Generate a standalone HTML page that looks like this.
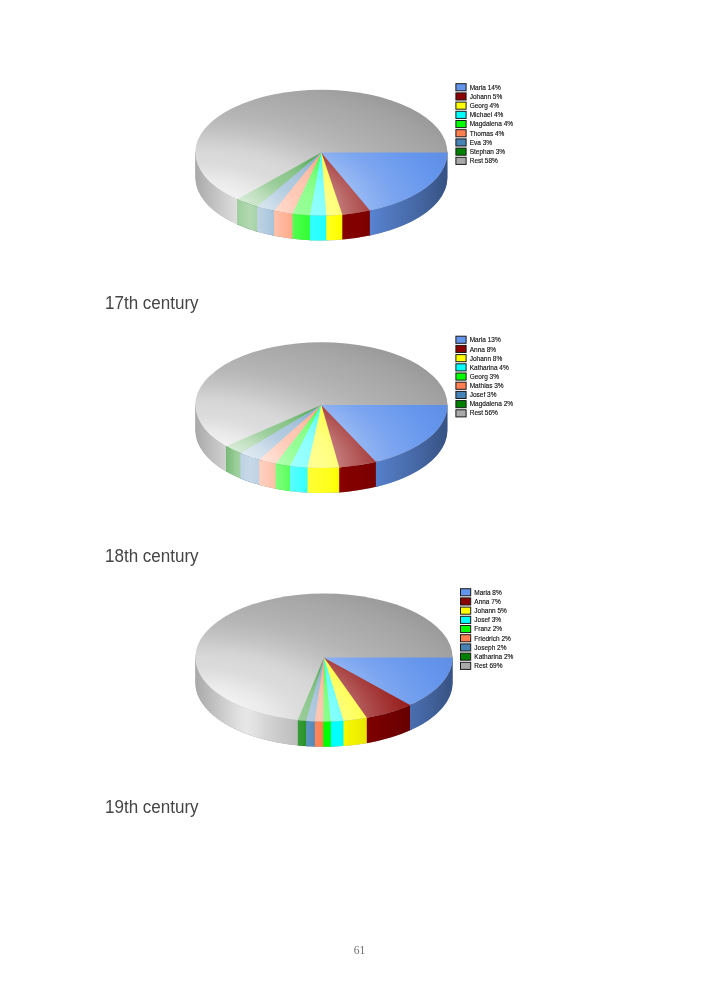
<!DOCTYPE html>
<html><head><meta charset="utf-8"><title>Page 61</title>
<style>
html,body{margin:0;padding:0;background:#fff;}
body{width:709px;height:992px;position:relative;overflow:hidden;font-family:"Liberation Sans",sans-serif;}
svg{position:absolute;left:0;top:0;}
.lg{font-family:"Liberation Sans",sans-serif;font-size:6.5px;fill:#111;stroke:#111;stroke-width:0.14px;filter:blur(0.35px);}
.cap{position:absolute;left:104.6px;font-size:18px;color:#454545;line-height:20px;white-space:nowrap;transform-origin:0 0;transform:scaleX(0.945);filter:blur(0.25px);}
.pn{position:absolute;left:10px;width:699px;text-align:center;top:943px;font-family:"Liberation Serif",serif;font-size:11.5px;color:#6e6e6e;line-height:14px;filter:blur(0.3px);}
</style></head><body>
<svg width="709" height="992" viewBox="0 0 709 992">
<defs>
<radialGradient id="p1t" gradientUnits="userSpaceOnUse" cx="0" cy="0" r="1.3" gradientTransform="translate(195.4,215.4) scale(252.0,125.6)">
<stop offset="0.000" stop-color="#fff" stop-opacity="1.0"/>
<stop offset="0.162" stop-color="#fff" stop-opacity="0.84"/>
<stop offset="0.231" stop-color="#fff" stop-opacity="0.75"/>
<stop offset="0.277" stop-color="#fff" stop-opacity="0.66"/>
<stop offset="0.323" stop-color="#fff" stop-opacity="0.59"/>
<stop offset="0.385" stop-color="#fff" stop-opacity="0.55"/>
<stop offset="0.431" stop-color="#fff" stop-opacity="0.49"/>
<stop offset="0.477" stop-color="#fff" stop-opacity="0.39"/>
<stop offset="0.523" stop-color="#fff" stop-opacity="0.3"/>
<stop offset="0.569" stop-color="#fff" stop-opacity="0.22"/>
<stop offset="0.615" stop-color="#fff" stop-opacity="0.15"/>
<stop offset="0.692" stop-color="#fff" stop-opacity="0.07"/>
<stop offset="0.769" stop-color="#fff" stop-opacity="0.0"/>
<stop offset="0.770" stop-color="#000" stop-opacity="0.0"/>
<stop offset="0.846" stop-color="#000" stop-opacity="0.04"/>
<stop offset="0.923" stop-color="#000" stop-opacity="0.09"/>
<stop offset="1.000" stop-color="#000" stop-opacity="0.12"/>
</radialGradient>
<linearGradient id="p1s" gradientUnits="userSpaceOnUse" x1="195.4" y1="0" x2="447.4" y2="0">
<stop offset="0" stop-color="#fff" stop-opacity="0.0"/>
<stop offset="0.078" stop-color="#fff" stop-opacity="0.3"/>
<stop offset="0.165" stop-color="#fff" stop-opacity="0.62"/>
<stop offset="0.217" stop-color="#fff" stop-opacity="0.7"/>
<stop offset="0.276" stop-color="#fff" stop-opacity="0.6"/>
<stop offset="0.348" stop-color="#fff" stop-opacity="0.43"/>
<stop offset="0.415" stop-color="#fff" stop-opacity="0.26"/>
<stop offset="0.455" stop-color="#fff" stop-opacity="0.2"/>
<stop offset="0.495" stop-color="#fff" stop-opacity="0.15"/>
<stop offset="0.534" stop-color="#fff" stop-opacity="0.1"/>
<stop offset="0.566" stop-color="#fff" stop-opacity="0.0"/>
<stop offset="0.566" stop-color="#000" stop-opacity="0.0"/>
<stop offset="0.594" stop-color="#000" stop-opacity="0.04"/>
<stop offset="0.653" stop-color="#000" stop-opacity="0.08"/>
<stop offset="0.713" stop-color="#000" stop-opacity="0.14"/>
<stop offset="0.772" stop-color="#000" stop-opacity="0.2"/>
<stop offset="0.832" stop-color="#000" stop-opacity="0.26"/>
<stop offset="0.891" stop-color="#000" stop-opacity="0.32"/>
<stop offset="1" stop-color="#000" stop-opacity="0.45"/>
</linearGradient>
</defs>
<path d="M447.40,152.60 A126.0,62.8 0 0 1 195.40,152.60 L195.40,177.60 A126.0,62.8 0 0 0 447.40,177.60 Z" fill="#A9A9A9"/>
<path d="M238.99,199.51 L195.40,152.00 L195.40,177.60 A126.0,62.8 0 0 0 238.99,225.11 Z" fill="#A9A9A9"/>
<path d="M259.28,206.64 L237.10,198.67 L237.10,224.27 A126.0,62.8 0 0 0 259.28,232.24 Z" fill="#008000"/>
<path d="M276.34,210.65 L257.10,206.01 L257.10,231.61 A126.0,62.8 0 0 0 276.34,236.25 Z" fill="#4682B4"/>
<path d="M294.96,213.40 L274.00,210.19 L274.00,235.79 A126.0,62.8 0 0 0 294.96,239.00 Z" fill="#FF7F50"/>
<path d="M312.41,214.64 L292.50,213.13 L292.50,238.73 A126.0,62.8 0 0 0 312.41,240.24 Z" fill="#00FF00"/>
<path d="M328.72,214.69 L309.90,214.54 L309.90,240.14 A126.0,62.8 0 0 0 328.72,240.29 Z" fill="#00FFFF"/>
<path d="M344.78,213.71 L326.20,214.75 L326.20,240.35 A126.0,62.8 0 0 0 344.78,239.31 Z" fill="#FFFF00"/>
<path d="M372.22,209.47 L342.30,213.93 L342.30,239.53 A126.0,62.8 0 0 0 372.22,235.07 Z" fill="#8B0000"/>
<path d="M447.40,152.00 L369.90,209.96 L369.90,235.56 A126.0,62.8 0 0 0 447.40,177.60 Z" fill="#6495ED"/>
<path d="M447.40,149.60 A126.0,62.8 0 0 1 195.40,149.60 L195.40,177.60 A126.0,62.8 0 0 0 447.40,177.60 Z" fill="url(#p1s)"/>
<ellipse cx="321.4" cy="152.6" rx="126.0" ry="62.8" fill="#A9A9A9"/>
<path d="M321.40,152.60 L259.28,207.24 A126.0,62.8 0 0 1 237.10,199.27 Z" fill="#008000"/>
<path d="M321.40,152.60 L276.34,211.25 A126.0,62.8 0 0 1 257.10,206.61 Z" fill="#4682B4"/>
<path d="M321.40,152.60 L294.96,214.00 A126.0,62.8 0 0 1 274.00,210.79 Z" fill="#FF7F50"/>
<path d="M321.40,152.60 L312.41,215.24 A126.0,62.8 0 0 1 292.50,213.73 Z" fill="#00FF00"/>
<path d="M321.40,152.60 L328.72,215.29 A126.0,62.8 0 0 1 309.90,215.14 Z" fill="#00FFFF"/>
<path d="M321.40,152.60 L344.78,214.31 A126.0,62.8 0 0 1 326.20,215.35 Z" fill="#FFFF00"/>
<path d="M321.40,152.60 L372.22,210.07 A126.0,62.8 0 0 1 342.30,214.53 Z" fill="#8B0000"/>
<path d="M321.40,152.60 L447.40,152.60 A126.0,62.8 0 0 1 369.90,210.56 Z" fill="#6495ED"/>
<ellipse cx="321.4" cy="152.6" rx="126.0" ry="62.8" fill="url(#p1t)"/>
<rect x="455.90" y="83.70" width="10.2" height="7.1" fill="#6495ED" stroke="#1a1a1a" stroke-width="1"/>
<text x="469.70" y="89.90" class="lg">Maria 14%</text>
<rect x="455.90" y="92.90" width="10.2" height="7.1" fill="#8B0000" stroke="#1a1a1a" stroke-width="1"/>
<text x="469.70" y="99.02" class="lg">Johann 5%</text>
<rect x="455.90" y="102.10" width="10.2" height="7.1" fill="#FFFF00" stroke="#1a1a1a" stroke-width="1"/>
<text x="469.70" y="108.14" class="lg">Georg 4%</text>
<rect x="455.90" y="111.30" width="10.2" height="7.1" fill="#00FFFF" stroke="#1a1a1a" stroke-width="1"/>
<text x="469.70" y="117.26" class="lg">Michael 4%</text>
<rect x="455.90" y="120.50" width="10.2" height="7.1" fill="#00FF00" stroke="#1a1a1a" stroke-width="1"/>
<text x="469.70" y="126.38" class="lg">Magdalena 4%</text>
<rect x="455.90" y="129.70" width="10.2" height="7.1" fill="#FF7F50" stroke="#1a1a1a" stroke-width="1"/>
<text x="469.70" y="135.50" class="lg">Thomas 4%</text>
<rect x="455.90" y="138.90" width="10.2" height="7.1" fill="#4682B4" stroke="#1a1a1a" stroke-width="1"/>
<text x="469.70" y="144.62" class="lg">Eva 3%</text>
<rect x="455.90" y="148.10" width="10.2" height="7.1" fill="#008000" stroke="#1a1a1a" stroke-width="1"/>
<text x="469.70" y="153.74" class="lg">Stephan 3%</text>
<rect x="455.90" y="157.30" width="10.2" height="7.1" fill="#A9A9A9" stroke="#1a1a1a" stroke-width="1"/>
<text x="469.70" y="162.86" class="lg">Rest 58%</text>
<defs>
<radialGradient id="p2t" gradientUnits="userSpaceOnUse" cx="0" cy="0" r="1.3" gradientTransform="translate(195.4,468.0) scale(252.0,125.8)">
<stop offset="0.000" stop-color="#fff" stop-opacity="1.0"/>
<stop offset="0.162" stop-color="#fff" stop-opacity="0.84"/>
<stop offset="0.231" stop-color="#fff" stop-opacity="0.75"/>
<stop offset="0.277" stop-color="#fff" stop-opacity="0.66"/>
<stop offset="0.323" stop-color="#fff" stop-opacity="0.59"/>
<stop offset="0.385" stop-color="#fff" stop-opacity="0.55"/>
<stop offset="0.431" stop-color="#fff" stop-opacity="0.49"/>
<stop offset="0.477" stop-color="#fff" stop-opacity="0.39"/>
<stop offset="0.523" stop-color="#fff" stop-opacity="0.3"/>
<stop offset="0.569" stop-color="#fff" stop-opacity="0.22"/>
<stop offset="0.615" stop-color="#fff" stop-opacity="0.15"/>
<stop offset="0.692" stop-color="#fff" stop-opacity="0.07"/>
<stop offset="0.769" stop-color="#fff" stop-opacity="0.0"/>
<stop offset="0.770" stop-color="#000" stop-opacity="0.0"/>
<stop offset="0.846" stop-color="#000" stop-opacity="0.04"/>
<stop offset="0.923" stop-color="#000" stop-opacity="0.09"/>
<stop offset="1.000" stop-color="#000" stop-opacity="0.12"/>
</radialGradient>
<linearGradient id="p2s" gradientUnits="userSpaceOnUse" x1="195.4" y1="0" x2="447.4" y2="0">
<stop offset="0" stop-color="#fff" stop-opacity="0.0"/>
<stop offset="0.078" stop-color="#fff" stop-opacity="0.3"/>
<stop offset="0.165" stop-color="#fff" stop-opacity="0.62"/>
<stop offset="0.217" stop-color="#fff" stop-opacity="0.7"/>
<stop offset="0.276" stop-color="#fff" stop-opacity="0.6"/>
<stop offset="0.348" stop-color="#fff" stop-opacity="0.43"/>
<stop offset="0.415" stop-color="#fff" stop-opacity="0.26"/>
<stop offset="0.455" stop-color="#fff" stop-opacity="0.2"/>
<stop offset="0.495" stop-color="#fff" stop-opacity="0.15"/>
<stop offset="0.534" stop-color="#fff" stop-opacity="0.1"/>
<stop offset="0.566" stop-color="#fff" stop-opacity="0.0"/>
<stop offset="0.566" stop-color="#000" stop-opacity="0.0"/>
<stop offset="0.594" stop-color="#000" stop-opacity="0.04"/>
<stop offset="0.653" stop-color="#000" stop-opacity="0.08"/>
<stop offset="0.713" stop-color="#000" stop-opacity="0.14"/>
<stop offset="0.772" stop-color="#000" stop-opacity="0.2"/>
<stop offset="0.832" stop-color="#000" stop-opacity="0.26"/>
<stop offset="0.891" stop-color="#000" stop-opacity="0.32"/>
<stop offset="1" stop-color="#000" stop-opacity="0.45"/>
</linearGradient>
</defs>
<path d="M447.40,405.10 A126.0,62.9 0 0 1 195.40,405.10 L195.40,430.20 A126.0,62.9 0 0 0 447.40,430.20 Z" fill="#A9A9A9"/>
<path d="M227.67,446.53 L195.40,404.50 L195.40,430.20 A126.0,62.9 0 0 0 227.67,472.23 Z" fill="#A9A9A9"/>
<path d="M242.35,453.48 L226.00,445.59 L226.00,471.29 A126.0,62.9 0 0 0 242.35,479.18 Z" fill="#008000"/>
<path d="M261.30,459.78 L240.40,452.68 L240.40,478.38 A126.0,62.9 0 0 0 261.30,485.48 Z" fill="#4682B4"/>
<path d="M277.96,463.54 L259.10,459.17 L259.10,484.87 A126.0,62.9 0 0 0 277.96,489.24 Z" fill="#FF7F50"/>
<path d="M292.45,465.72 L275.60,463.10 L275.60,488.80 A126.0,62.9 0 0 0 292.45,491.42 Z" fill="#00FF00"/>
<path d="M310.01,467.14 L290.00,465.42 L290.00,491.12 A126.0,62.9 0 0 0 310.01,492.84 Z" fill="#00FFFF"/>
<path d="M341.69,466.58 L307.50,467.02 L307.50,492.72 A126.0,62.9 0 0 0 341.69,492.28 Z" fill="#FFFF00"/>
<path d="M378.16,460.66 L339.20,466.77 L339.20,492.47 A126.0,62.9 0 0 0 378.16,486.36 Z" fill="#8B0000"/>
<path d="M447.40,404.50 L375.90,461.21 L375.90,486.91 A126.0,62.9 0 0 0 447.40,430.20 Z" fill="#6495ED"/>
<path d="M447.40,402.10 A126.0,62.9 0 0 1 195.40,402.10 L195.40,430.20 A126.0,62.9 0 0 0 447.40,430.20 Z" fill="url(#p2s)"/>
<ellipse cx="321.4" cy="405.1" rx="126.0" ry="62.9" fill="#A9A9A9"/>
<path d="M321.40,405.10 L242.35,454.08 A126.0,62.9 0 0 1 226.00,446.19 Z" fill="#008000"/>
<path d="M321.40,405.10 L261.30,460.38 A126.0,62.9 0 0 1 240.40,453.28 Z" fill="#4682B4"/>
<path d="M321.40,405.10 L277.96,464.14 A126.0,62.9 0 0 1 259.10,459.77 Z" fill="#FF7F50"/>
<path d="M321.40,405.10 L292.45,466.32 A126.0,62.9 0 0 1 275.60,463.70 Z" fill="#00FF00"/>
<path d="M321.40,405.10 L310.01,467.74 A126.0,62.9 0 0 1 290.00,466.02 Z" fill="#00FFFF"/>
<path d="M321.40,405.10 L341.69,467.18 A126.0,62.9 0 0 1 307.50,467.62 Z" fill="#FFFF00"/>
<path d="M321.40,405.10 L378.16,461.26 A126.0,62.9 0 0 1 339.20,467.37 Z" fill="#8B0000"/>
<path d="M321.40,405.10 L447.40,405.10 A126.0,62.9 0 0 1 375.90,461.81 Z" fill="#6495ED"/>
<ellipse cx="321.4" cy="405.1" rx="126.0" ry="62.9" fill="url(#p2t)"/>
<rect x="455.90" y="336.20" width="10.2" height="7.1" fill="#6495ED" stroke="#1a1a1a" stroke-width="1"/>
<text x="469.70" y="342.40" class="lg">Maria 13%</text>
<rect x="455.90" y="345.40" width="10.2" height="7.1" fill="#8B0000" stroke="#1a1a1a" stroke-width="1"/>
<text x="469.70" y="351.52" class="lg">Anna 8%</text>
<rect x="455.90" y="354.60" width="10.2" height="7.1" fill="#FFFF00" stroke="#1a1a1a" stroke-width="1"/>
<text x="469.70" y="360.64" class="lg">Johann 8%</text>
<rect x="455.90" y="363.80" width="10.2" height="7.1" fill="#00FFFF" stroke="#1a1a1a" stroke-width="1"/>
<text x="469.70" y="369.76" class="lg">Katharina 4%</text>
<rect x="455.90" y="373.00" width="10.2" height="7.1" fill="#00FF00" stroke="#1a1a1a" stroke-width="1"/>
<text x="469.70" y="378.88" class="lg">Georg 3%</text>
<rect x="455.90" y="382.20" width="10.2" height="7.1" fill="#FF7F50" stroke="#1a1a1a" stroke-width="1"/>
<text x="469.70" y="388.00" class="lg">Mathias 3%</text>
<rect x="455.90" y="391.40" width="10.2" height="7.1" fill="#4682B4" stroke="#1a1a1a" stroke-width="1"/>
<text x="469.70" y="397.12" class="lg">Josef 3%</text>
<rect x="455.90" y="400.60" width="10.2" height="7.1" fill="#008000" stroke="#1a1a1a" stroke-width="1"/>
<text x="469.70" y="406.24" class="lg">Magdalena 2%</text>
<rect x="455.90" y="409.80" width="10.2" height="7.1" fill="#A9A9A9" stroke="#1a1a1a" stroke-width="1"/>
<text x="469.70" y="415.36" class="lg">Rest 56%</text>
<defs>
<radialGradient id="p3t" gradientUnits="userSpaceOnUse" cx="0" cy="0" r="1.3" gradientTransform="translate(195.4,721.4) scale(257.2,127.8)">
<stop offset="0.000" stop-color="#fff" stop-opacity="1.0"/>
<stop offset="0.162" stop-color="#fff" stop-opacity="0.84"/>
<stop offset="0.231" stop-color="#fff" stop-opacity="0.75"/>
<stop offset="0.277" stop-color="#fff" stop-opacity="0.66"/>
<stop offset="0.323" stop-color="#fff" stop-opacity="0.59"/>
<stop offset="0.385" stop-color="#fff" stop-opacity="0.55"/>
<stop offset="0.431" stop-color="#fff" stop-opacity="0.49"/>
<stop offset="0.477" stop-color="#fff" stop-opacity="0.39"/>
<stop offset="0.523" stop-color="#fff" stop-opacity="0.3"/>
<stop offset="0.569" stop-color="#fff" stop-opacity="0.22"/>
<stop offset="0.615" stop-color="#fff" stop-opacity="0.15"/>
<stop offset="0.692" stop-color="#fff" stop-opacity="0.07"/>
<stop offset="0.769" stop-color="#fff" stop-opacity="0.0"/>
<stop offset="0.770" stop-color="#000" stop-opacity="0.0"/>
<stop offset="0.846" stop-color="#000" stop-opacity="0.04"/>
<stop offset="0.923" stop-color="#000" stop-opacity="0.09"/>
<stop offset="1.000" stop-color="#000" stop-opacity="0.12"/>
</radialGradient>
<linearGradient id="p3s" gradientUnits="userSpaceOnUse" x1="195.4" y1="0" x2="452.6" y2="0">
<stop offset="0" stop-color="#fff" stop-opacity="0.0"/>
<stop offset="0.078" stop-color="#fff" stop-opacity="0.3"/>
<stop offset="0.165" stop-color="#fff" stop-opacity="0.64"/>
<stop offset="0.201" stop-color="#fff" stop-opacity="0.72"/>
<stop offset="0.237" stop-color="#fff" stop-opacity="0.64"/>
<stop offset="0.276" stop-color="#fff" stop-opacity="0.5"/>
<stop offset="0.336" stop-color="#fff" stop-opacity="0.36"/>
<stop offset="0.399" stop-color="#fff" stop-opacity="0.22"/>
<stop offset="0.431" stop-color="#fff" stop-opacity="0.15"/>
<stop offset="0.463" stop-color="#fff" stop-opacity="0.06"/>
<stop offset="0.495" stop-color="#fff" stop-opacity="0.0"/>
<stop offset="0.566" stop-color="#fff" stop-opacity="0.0"/>
<stop offset="0.566" stop-color="#000" stop-opacity="0.0"/>
<stop offset="0.594" stop-color="#000" stop-opacity="0.04"/>
<stop offset="0.653" stop-color="#000" stop-opacity="0.08"/>
<stop offset="0.713" stop-color="#000" stop-opacity="0.14"/>
<stop offset="0.772" stop-color="#000" stop-opacity="0.2"/>
<stop offset="0.832" stop-color="#000" stop-opacity="0.26"/>
<stop offset="0.891" stop-color="#000" stop-opacity="0.32"/>
<stop offset="1" stop-color="#000" stop-opacity="0.45"/>
</linearGradient>
</defs>
<path d="M452.60,657.50 A128.6,63.9 0 0 1 195.40,657.50 L195.40,682.90 A128.6,63.9 0 0 0 452.60,682.90 Z" fill="#A9A9A9"/>
<path d="M300.32,719.71 L195.40,656.90 L195.40,682.90 A128.6,63.9 0 0 0 300.32,745.71 Z" fill="#A9A9A9"/>
<path d="M308.65,720.34 L297.80,719.46 L297.80,745.46 A128.6,63.9 0 0 0 308.65,746.34 Z" fill="#008000"/>
<path d="M317.37,720.71 L306.10,720.18 L306.10,746.18 A128.6,63.9 0 0 0 317.37,746.71 Z" fill="#4682B4"/>
<path d="M325.77,720.79 L314.80,720.64 L314.80,746.64 A128.6,63.9 0 0 0 325.77,746.79 Z" fill="#FF7F50"/>
<path d="M333.37,720.63 L323.20,720.80 L323.20,746.80 A128.6,63.9 0 0 0 333.37,746.63 Z" fill="#00FF00"/>
<path d="M346.04,719.85 L330.80,720.71 L330.80,746.71 A128.6,63.9 0 0 0 346.04,745.85 Z" fill="#00FFFF"/>
<path d="M369.22,716.72 L343.50,720.06 L343.50,746.06 A128.6,63.9 0 0 0 369.22,742.72 Z" fill="#FFFF00"/>
<path d="M411.89,703.55 L366.80,717.16 L366.80,743.16 A128.6,63.9 0 0 0 411.89,729.55 Z" fill="#8B0000"/>
<path d="M452.60,656.90 L410.00,704.41 L410.00,730.41 A128.6,63.9 0 0 0 452.60,682.90 Z" fill="#6495ED"/>
<path d="M452.60,654.50 A128.6,63.9 0 0 1 195.40,654.50 L195.40,682.90 A128.6,63.9 0 0 0 452.60,682.90 Z" fill="url(#p3s)"/>
<ellipse cx="324.0" cy="657.5" rx="128.6" ry="63.9" fill="#A9A9A9"/>
<path d="M324.00,657.50 L308.65,720.94 A128.6,63.9 0 0 1 297.80,720.06 Z" fill="#008000"/>
<path d="M324.00,657.50 L317.37,721.31 A128.6,63.9 0 0 1 306.10,720.78 Z" fill="#4682B4"/>
<path d="M324.00,657.50 L325.77,721.39 A128.6,63.9 0 0 1 314.80,721.24 Z" fill="#FF7F50"/>
<path d="M324.00,657.50 L333.37,721.23 A128.6,63.9 0 0 1 323.20,721.40 Z" fill="#00FF00"/>
<path d="M324.00,657.50 L346.04,720.45 A128.6,63.9 0 0 1 330.80,721.31 Z" fill="#00FFFF"/>
<path d="M324.00,657.50 L369.22,717.32 A128.6,63.9 0 0 1 343.50,720.66 Z" fill="#FFFF00"/>
<path d="M324.00,657.50 L411.89,704.15 A128.6,63.9 0 0 1 366.80,717.76 Z" fill="#8B0000"/>
<path d="M324.00,657.50 L452.60,657.50 A128.6,63.9 0 0 1 410.00,705.01 Z" fill="#6495ED"/>
<ellipse cx="324.0" cy="657.5" rx="128.6" ry="63.9" fill="url(#p3t)"/>
<rect x="460.50" y="588.70" width="10.2" height="7.1" fill="#6495ED" stroke="#1a1a1a" stroke-width="1"/>
<text x="474.30" y="594.90" class="lg">Maria 8%</text>
<rect x="460.50" y="597.90" width="10.2" height="7.1" fill="#8B0000" stroke="#1a1a1a" stroke-width="1"/>
<text x="474.30" y="604.02" class="lg">Anna 7%</text>
<rect x="460.50" y="607.10" width="10.2" height="7.1" fill="#FFFF00" stroke="#1a1a1a" stroke-width="1"/>
<text x="474.30" y="613.14" class="lg">Johann 5%</text>
<rect x="460.50" y="616.30" width="10.2" height="7.1" fill="#00FFFF" stroke="#1a1a1a" stroke-width="1"/>
<text x="474.30" y="622.26" class="lg">Josef 3%</text>
<rect x="460.50" y="625.50" width="10.2" height="7.1" fill="#00FF00" stroke="#1a1a1a" stroke-width="1"/>
<text x="474.30" y="631.38" class="lg">Franz 2%</text>
<rect x="460.50" y="634.70" width="10.2" height="7.1" fill="#FF7F50" stroke="#1a1a1a" stroke-width="1"/>
<text x="474.30" y="640.50" class="lg">Friedrich 2%</text>
<rect x="460.50" y="643.90" width="10.2" height="7.1" fill="#4682B4" stroke="#1a1a1a" stroke-width="1"/>
<text x="474.30" y="649.62" class="lg">Joseph 2%</text>
<rect x="460.50" y="653.10" width="10.2" height="7.1" fill="#008000" stroke="#1a1a1a" stroke-width="1"/>
<text x="474.30" y="658.74" class="lg">Katharina 2%</text>
<rect x="460.50" y="662.30" width="10.2" height="7.1" fill="#A9A9A9" stroke="#1a1a1a" stroke-width="1"/>
<text x="474.30" y="667.86" class="lg">Rest 69%</text>
</svg>
<div class="cap" style="top:292.6px">17th century</div>
<div class="cap" style="top:545.6px">18th century</div>
<div class="cap" style="top:797.2px">19th century</div>
<div class="pn">61</div>
</body></html>
